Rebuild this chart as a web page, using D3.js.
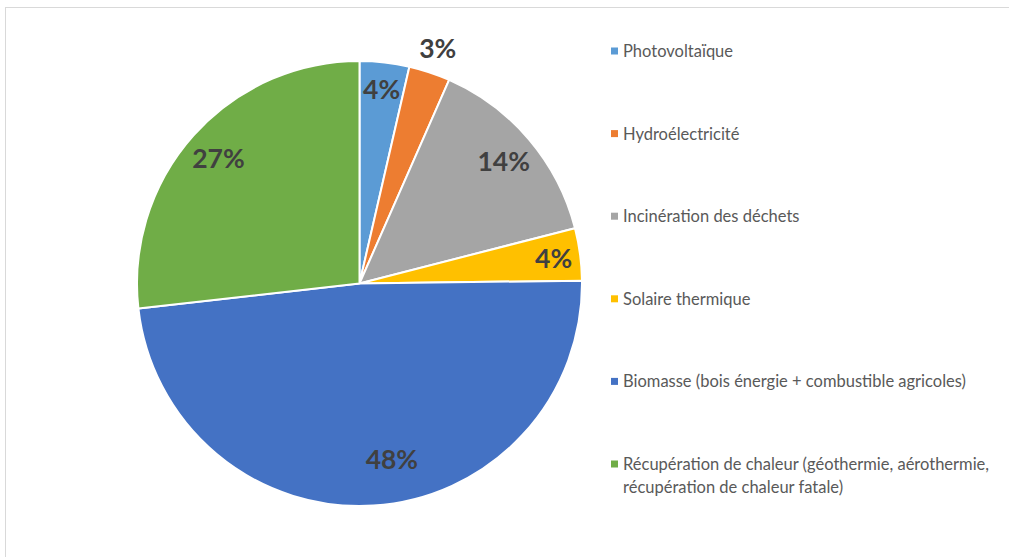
<!DOCTYPE html>
<html>
<head>
<meta charset="utf-8">
<script src="https://cdn.jsdelivr.net/npm/d3@7"></script>
<style>
  body { margin: 0; background: #fff; }
  svg { display: block; }
</style>
</head>
<body>
<div id="chart"></div>
<script>
const categories = [
  "Photovoltaïque",
  "Hydroélectricité",
  "Incinération des déchets",
  "Solaire thermique",
  "Biomasse (bois énergie + combustible agricoles)",
  "Récupération de chaleur (géothermie, aérothermie, récupération de chaleur fatale)"
];
const values = [3.6, 3.0, 14.4, 3.8, 48.4, 26.8];
const percentLabels = ["4%", "3%", "14%", "4%", "48%", "27%"];
const legendLines = [
  ["Photovoltaïque"],
  ["Hydroélectricité"],
  ["Incinération des déchets"],
  ["Solaire thermique"],
  ["Biomasse (bois énergie + combustible agricoles)"],
  ["Récupération de chaleur (géothermie, aérothermie,", "récupération de chaleur fatale)"]
];
const colors = ["#5B9BD5", "#ED7D31", "#A5A5A5", "#FFC000", "#4472C4", "#70AD47"];

const width = 1009, height = 557;
const cx = 359.5, cy = 283.5, radius = 222.5;

const svg = d3.select("#chart").append("svg")
  .attr("width", width)
  .attr("height", height);

// chart frame (runs off the right and bottom edges)
svg.append("rect")
  .attr("x", 5.5).attr("y", 7.5)
  .attr("width", 1020).attr("height", 570)
  .attr("fill", "none")
  .attr("stroke", "#d9d9d9");

const data = categories.map((c, i) => ({ name: c, value: values[i], label: percentLabels[i], color: colors[i] }));

const pie = d3.pie().sort(null).value(d => d.value);
const arcs = pie(data);
const arc = d3.arc().innerRadius(0).outerRadius(radius);

const g = svg.append("g").attr("transform", `translate(${cx},${cy})`);

g.selectAll("path.slice")
  .data(arcs)
  .join("path")
  .attr("class", "slice")
  .attr("d", arc)
  .attr("fill", d => d.data.color)
  .attr("stroke", "#fff")
  .attr("stroke-width", 2)
  .attr("stroke-linejoin", "round");

// label radius: small slices pushed out (tiny ones outside the pie)
function labelRadius(v) {
  if (v < 3.3) return radius + 26;
  if (v < 5) return radius * 0.88;
  if (v > 40) return radius * 0.8;
  return radius * 0.85;
}
function labelAngle(d) {
  const mid = (d.startAngle + d.endAngle) / 2;
  // Excel nudges the big bottom label off the vertical
  if (d.data.value > 40) return mid - 0.12;
  return mid;
}

g.selectAll("text.pct")
  .data(arcs)
  .join("text")
  .attr("class", "pct")
  .attr("x", d => labelRadius(d.data.value) * Math.sin(labelAngle(d)))
  .attr("y", d => -labelRadius(d.data.value) * Math.cos(labelAngle(d)))
  .attr("text-anchor", "middle")
  .attr("dominant-baseline", "central")
  .attr("font-family", "Lato, 'Open Sans', sans-serif")
  .attr("font-weight", "bold")
  .attr("font-size", 26.5)
  .attr("fill", "#404040")
  .text(d => d.data.label);

// legend
const legendY = d3.scalePoint()
  .domain(categories)
  .range([51, 464]);

const legend = svg.append("g").attr("class", "legend");

const items = legend.selectAll("g.item")
  .data(categories)
  .join("g")
  .attr("class", "item")
  .attr("transform", d => `translate(611,${legendY(d)})`);

items.append("rect")
  .attr("x", 0).attr("y", -3.5)
  .attr("width", 7).attr("height", 7)
  .attr("fill", (d, i) => colors[i]);

items.append("text")
  .attr("x", 12)
  .attr("font-family", "Lato, 'Open Sans', sans-serif")
  .attr("font-size", 16.5)
  .attr("fill", "#595959")
  .selectAll("tspan")
  .data((d, i) => legendLines[i])
  .join("tspan")
  .attr("x", 12)
  .attr("y", (d, j) => j * 23)
  .attr("dominant-baseline", "central")
  .text(d => d);
</script>
</body>
</html>
